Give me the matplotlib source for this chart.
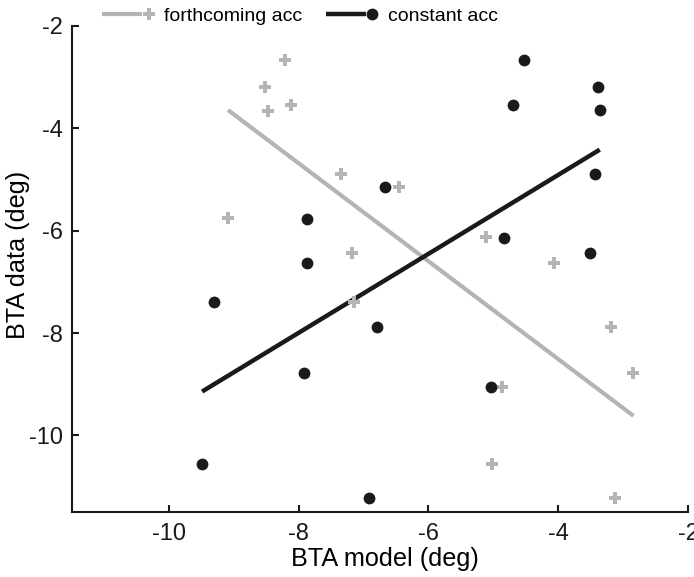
import numpy as np
import matplotlib
matplotlib.use("Agg")
from matplotlib import pyplot as plt
from matplotlib.legend_handler import HandlerTuple

plt.rcParams['font.family'] = ['Liberation Sans', 'DejaVu Sans']
plt.rcParams['axes.unicode_minus'] = False

# forthcoming acc (grey crosses)
forth_model = [-8.52, -8.21, -8.48, -8.12, -9.09, -7.35, -7.18, -7.15,
               -6.45, -5.11, -4.07, -4.87, -3.19, -2.84, -5.02, -3.12]
forth_data = [-3.19, -2.67, -3.66, -3.54, -5.76, -4.89, -6.43, -7.40,
              -5.14, -6.12, -6.64, -9.05, -7.88, -8.78, -10.55, -11.23]

# constant acc (black dots)
const_model = [-9.49, -9.30, -7.88, -7.88, -7.92, -6.80, -6.91, -6.67,
               -5.03, -4.84, -4.52, -4.70, -3.39, -3.36, -3.43, -3.51]
const_data = [-10.55, -7.40, -5.78, -6.64, -8.78, -7.88, -11.23, -5.14,
              -9.05, -6.14, -2.67, -3.55, -3.19, -3.65, -4.89, -6.44]

xticks = [-10, -8, -6, -4, -2]
yticks = [-2, -4, -6, -8, -10]

GREY = '#b4b4b4'
BLACK = '#1a1a1a'

fig = plt.figure(figsize=(6.94, 5.77), dpi=100)
ax = fig.add_axes([0.1033, 0.1121, 0.888, 0.8434])


def fit_line(x, y):
    x = np.asarray(x)
    y = np.asarray(y)
    p = np.polyfit(x, y, 1)
    xs = np.array([x.min(), x.max()])
    return xs, np.polyval(p, xs)


fx, fy = fit_line(forth_model, forth_data)
cx, cy = fit_line(const_model, const_data)

gl, = ax.plot(fx, fy, color=GREY, lw=3, solid_capstyle='butt', zorder=2)
bl, = ax.plot(cx, cy, color=BLACK, lw=3.2, solid_capstyle='butt', zorder=2)
gm, = ax.plot(forth_model, forth_data, 'P', color=GREY, ms=8, mew=0, zorder=3)
bm, = ax.plot(const_model, const_data, 'o', color=BLACK, ms=8.5, mew=0, zorder=3)

ax.set_xlim(-11.5, -2)
ax.set_ylim(-11.5, -2)
ax.set_xticks(xticks)
ax.set_yticks(yticks)
ax.spines['top'].set_visible(False)
ax.spines['right'].set_visible(False)
for s in ['left', 'bottom']:
    ax.spines[s].set_linewidth(1.5)
    ax.spines[s].set_color(BLACK)
ax.tick_params(direction='in', length=5, width=1.5, labelsize=17,
               colors=BLACK)
ax.tick_params(axis='x', pad=8)
ax.tick_params(axis='y', pad=6)
ax.set_xlabel('BTA model (deg)', fontsize=18.2)
ax.set_ylabel('BTA data (deg)', fontsize=18.2)
ax.xaxis.set_label_coords(0.509, -0.072)
ax.yaxis.set_label_coords(-0.067, 0.528)

fig.legend([(gl, gl, gl, gm), (bl, bl, bl, bm)],
           ['forthcoming acc', 'constant acc'],
           handler_map={tuple: HandlerTuple(ndivide=None, pad=0)},
           loc='center', bbox_to_anchor=(0.432, 0.972), ncol=2,
           frameon=False, fontsize=14, handlelength=2.75,
           handletextpad=0.46, columnspacing=1.2)

fig.savefig('out.png', dpi=100)
